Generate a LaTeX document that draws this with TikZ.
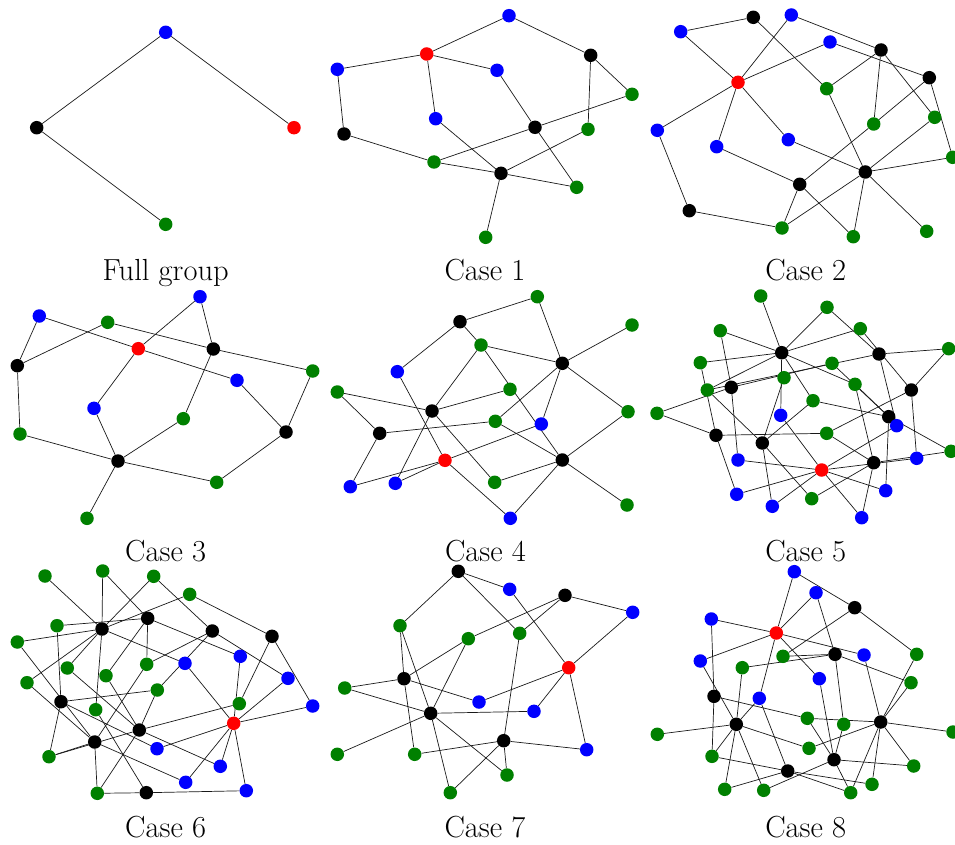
\documentclass[tikz,border=0pt]{standalone}
\usepackage{fontspec}
\pgfdeclarelayer{bg}
\pgfsetlayers{bg,main}
\tikzset{
  vtx/.style={circle,inner sep=0pt,minimum size=13.5pt,draw=none},
  kn/.style={vtx,fill=black},
  bn/.style={vtx,fill=blue},
  rn/.style={vtx,fill=red},
  gn/.style={vtx,fill=green!50!black},
  edge/.style={line width=0.7pt,draw=black!90},
  lab/.style={anchor=base,font=\fontsize{30.5}{36}\selectfont,inner sep=0pt}
}
\begin{document}
\begin{tikzpicture}[x=1pt,y=-1pt]
\useasboundingbox (0,0) rectangle (955,845);
% ---------- Full group ----------
\node[bn] (fB) at (165.7,32.3) {};
\node[kn] (fK) at (36.7,127.7) {};
\node[rn] (fR) at (294,127.7) {};
\node[gn] (fG) at (165.7,224.3) {};
\node[lab] (fL) at (165.7,280) {Full group};
\begin{pgfonlayer}{bg}
\foreach \u/\v in {B/K,B/R,K/G} \draw[edge] (f\u) -- (f\v);
\end{pgfonlayer}
% ---------- Case 1 ----------
\node[bn] (aB1) at (509,15.7) {};
\node[rn] (aR) at (426.7,54) {};
\node[bn] (aB2) at (337.3,69.3) {};
\node[bn] (aB3) at (497,70.3) {};
\node[kn] (aK1) at (590.7,55.3) {};
\node[gn] (aG1) at (632,94.3) {};
\node[bn] (aB4) at (435.7,118.7) {};
\node[kn] (aK2) at (535,127.3) {};
\node[gn] (aG2) at (588,129.3) {};
\node[kn] (aK3) at (344,134) {};
\node[gn] (aG3) at (434,162) {};
\node[kn] (aK4) at (501,173.3) {};
\node[gn] (aG4) at (576.7,187.3) {};
\node[gn] (aG5) at (485.7,237.3) {};
\node[lab] (aL) at (485,280) {Case 1};
\begin{pgfonlayer}{bg}
\foreach \u/\v in {B1/R,B1/K1,R/B2,R/B3,R/B4,B2/K3,K1/G1,K1/G2,B3/K2,B4/K4,G3/K2,K2/G1,K2/G4,K3/G3,G3/K4,K4/G4,K4/G2,K4/G5}
  \draw[edge] (a\u) -- (a\v);
\end{pgfonlayer}
% ---------- Case 2 ----------
\node[kn] (bK1) at (753.3,17.3) {};
\node[bn] (bB1) at (791.3,15) {};
\node[bn] (bB2) at (680.7,31.7) {};
\node[bn] (bB3) at (830,42) {};
\node[kn] (bK2) at (881,50) {};
\node[kn] (bK3) at (929.3,77.7) {};
\node[rn] (bR) at (738,82.3) {};
\node[gn] (bG1) at (826.7,88.7) {};
\node[gn] (bG2) at (934.7,117.3) {};
\node[gn] (bG3) at (873.7,124) {};
\node[bn] (bB4) at (657.3,130.3) {};
\node[bn] (bB5) at (788.3,139.7) {};
\node[bn] (bB6) at (716.7,146.7) {};
\node[gn] (bG4) at (952.7,157.3) {};
\node[kn] (bK4) at (865.3,172) {};
\node[kn] (bK5) at (799.7,184.3) {};
\node[kn] (bK6) at (689.3,210.7) {};
\node[gn] (bG5) at (782,228) {};
\node[gn] (bG6) at (853.3,236.7) {};
\node[gn] (bG7) at (926.7,231.3) {};
\node[lab] (bL) at (805.7,280) {Case 2};
\begin{pgfonlayer}{bg}
\foreach \u/\v in {B2/K1,B2/R,K1/G1,B1/R,B1/K2,B3/R,B3/K3,G1/K2,K2/G3,K2/G2,K3/G3,G3/K5,K3/G4,R/B4,R/B6,R/B5,B4/K6,K6/G5,B6/K5,B5/K4,G1/K4,G2/K4,G4/K4,K4/G5,K4/G6,K4/G7,K5/G5,K5/G6}
  \draw[edge] (b\u) -- (b\v);
\end{pgfonlayer}
% ---------- Case 3 ----------
\node[bn] (cB1) at (200,296.7) {};
\node[bn] (cB2) at (39.3,316) {};
\node[gn] (cG1) at (107.7,322.3) {};
\node[rn] (cR) at (138.3,348.7) {};
\node[kn] (cK1) at (213.3,349) {};
\node[kn] (cK2) at (17.3,365.7) {};
\node[gn] (cG2) at (312.7,371) {};
\node[bn] (cB3) at (237,380.3) {};
\node[bn] (cB4) at (94,408.3) {};
\node[gn] (cG3) at (183.3,418.7) {};
\node[kn] (cK3) at (286,432) {};
\node[gn] (cG4) at (20,434) {};
\node[kn] (cK4) at (118,461) {};
\node[gn] (cG5) at (216.7,482.3) {};
\node[gn] (cG6) at (87,518.3) {};
\node[lab] (cL) at (165.7,561) {Case 3};
\begin{pgfonlayer}{bg}
\foreach \u/\v in {B2/K2,B2/R,R/B3,G1/K2,G1/K1,K1/G2,B1/R,B1/K1,R/B4,K1/G3,K2/G4,B3/K3,G2/K3,B4/K4,G3/K4,G4/K4,K4/G5,G5/K3,K4/G6}
  \draw[edge] (c\u) -- (c\v);
\end{pgfonlayer}
% ---------- Case 4 ----------
\node[gn] (dG1) at (537.3,296.7) {};
\node[kn] (dK1) at (460,321.7) {};
\node[gn] (dG2) at (632,325) {};
\node[gn] (dG3) at (481,345) {};
\node[kn] (dK2) at (562.3,363.3) {};
\node[bn] (dB1) at (397.3,371.7) {};
\node[gn] (dG4) at (337.3,392) {};
\node[gn] (dG5) at (510,389.3) {};
\node[kn] (dK3) at (432,411) {};
\node[gn] (dG6) at (628,411.7) {};
\node[gn] (dG7) at (495.3,421.3) {};
\node[bn] (dB2) at (541.3,424) {};
\node[kn] (dK4) at (379.7,433.3) {};
\node[rn] (dR) at (445,460.3) {};
\node[kn] (dK5) at (562.3,460) {};
\node[bn] (dB3) at (350.3,486.7) {};
\node[bn] (dB4) at (395.3,483.3) {};
\node[gn] (dG8) at (494.7,482.3) {};
\node[gn] (dG9) at (627,505) {};
\node[bn] (dB5) at (510.3,518.3) {};
\node[lab] (dL) at (485.5,561) {Case 4};
\begin{pgfonlayer}{bg}
\foreach \u/\v in {K1/G1,G1/K2,K1/B1,K1/G3,G3/K2,K2/G2,G3/K5,K3/G5,B1/R,B2/R,B2/K2,R/B3,R/B4,R/B5,B3/K4,B4/K3,K3/G4,K3/G3,K3/G8,K4/G4,K4/G7,G7/K2,G7/K5,K2/G6,K5/G6,K5/G8,K5/G9,K5/B5}
  \draw[edge] (d\u) -- (d\v);
\end{pgfonlayer}
% ---------- Case 5 ----------
\node[gn] (eG1) at (760.7,296) {};
\node[gn] (eG2) at (827,307.3) {};
\node[gn] (eG3) at (720.3,330.7) {};
\node[gn] (eG4) at (860.3,328.7) {};
\node[kn] (eK1) at (781.7,352.7) {};
\node[kn] (eK2) at (879,354) {};
\node[gn] (eG5) at (948.7,348.7) {};
\node[gn] (eG6) at (700.3,362.7) {};
\node[gn] (eG7) at (832,363.3) {};
\node[gn] (eG8) at (784,377.7) {};
\node[gn] (eG9) at (707.3,390) {};
\node[kn] (eK3) at (731.3,387.3) {};
\node[gn] (eG10) at (855,384.3) {};
\node[kn] (eK4) at (911.3,390) {};
\node[gn] (eG11) at (813,400.7) {};
\node[gn] (eG12) at (657,413.3) {};
\node[bn] (eB1) at (780.7,415.3) {};
\node[kn] (eK5) at (888.7,416.7) {};
\node[bn] (eB2) at (896.7,425.7) {};
\node[kn] (eK6) at (716,435.3) {};
\node[gn] (eG13) at (826.7,433.3) {};
\node[kn] (eK7) at (762.3,443) {};
\node[gn] (eG14) at (951,451.3) {};
\node[bn] (eB3) at (738,460) {};
\node[bn] (eB4) at (916.7,458.3) {};
\node[kn] (eK8) at (873.7,462.7) {};
\node[rn] (eR) at (821.7,470) {};
\node[bn] (eB5) at (736.7,494.3) {};
\node[bn] (eB6) at (885.7,490.7) {};
\node[bn] (eB7) at (772.3,506.3) {};
\node[gn] (eG15) at (811.7,498.7) {};
\node[bn] (eB8) at (861.7,517.7) {};
\node[lab] (eL) at (805.7,561) {Case 5};
\begin{pgfonlayer}{bg}
\foreach \u/\v in {G1/K1,G2/K1,G2/K2,G3/K1,G3/K3,K3/B3,G4/K1,G4/K4,G6/K1,G6/K6,K3/G7,G9/K2,G9/K1,G12/K3,G12/K6,K6/G13,K6/B5,G9/K7,K7/G11,K7/G8,K7/B7,K7/G15,G11/K5,G10/K5,G10/K8,G7/K5,K2/G5,K2/B2,G5/K4,K4/G13,K4/B4,K5/G14,K5/B6,G13/K8,K8/B8,K8/G15,K8/G14,R/B1,R/B2,R/B3,R/B4,R/B5,R/B6,R/B7,R/B8,K1/B1,K1/G11,K1/G10}
  \draw[edge] (e\u) -- (e\v);
\end{pgfonlayer}
% ---------- Case 6 ----------
\node[gn] (gG1) at (45,576) {};
\node[gn] (gG2) at (102.7,571) {};
\node[gn] (gG3) at (153.7,576.3) {};
\node[gn] (gG4) at (189.7,594.3) {};
\node[kn] (gK1) at (147.7,618.3) {};
\node[kn] (gK2) at (102,629) {};
\node[gn] (gG5) at (57,625.7) {};
\node[kn] (gK3) at (212.3,631) {};
\node[kn] (gK4) at (272,636.3) {};
\node[gn] (gG6) at (17.3,642) {};
\node[bn] (gB1) at (240.3,656.3) {};
\node[bn] (gB2) at (185,663.3) {};
\node[gn] (gG7) at (146.7,664.3) {};
\node[gn] (gG8) at (67.3,668) {};
\node[gn] (gG9) at (106,675.7) {};
\node[bn] (gB3) at (288,678.3) {};
\node[gn] (gG10) at (27,682.7) {};
\node[gn] (gG11) at (157.3,690) {};
\node[kn] (gK5) at (61,701.7) {};
\node[gn] (gG12) at (239.3,703.7) {};
\node[bn] (gB4) at (312.7,706) {};
\node[gn] (gG13) at (95.7,709.7) {};
\node[rn] (gR) at (233.7,723.3) {};
\node[kn] (gK6) at (139.3,730) {};
\node[kn] (gK7) at (94.7,742) {};
\node[bn] (gB5) at (157,748.7) {};
\node[gn] (gG14) at (49,756.7) {};
\node[bn] (gB6) at (220.3,766.3) {};
\node[bn] (gB7) at (185.7,782.3) {};
\node[bn] (gB8) at (246.3,790.7) {};
\node[gn] (gG15) at (97.3,793.3) {};
\node[kn] (gK8) at (146.3,792.7) {};
\node[lab] (gL) at (165.7,837) {Case 6};
\begin{pgfonlayer}{bg}
\foreach \u/\v in {G1/K2,G2/K2,G3/K2,G2/K1,G3/K3,G4/K2,G4/K4,G5/K1,G6/K2,K2/G10,K2/G8,K2/G13,K2/B2,G9/K1,K1/G7,K1/B1,G6/K7,G5/K5,G10/K7,G8/K6,G9/K6,G13/K8,K5/G11,K5/B5,K7/B7,K5/G14,G14/K7,G14/K6,K7/G15,K7/G7,G15/K6,K6/G11,G15/K8,K8/B8,K6/G12,K6/B6,G11/K3,G7/K3,K3/B3,K4/G12,K4/B4,B1/R,B3/R,B4/R,B2/R,R/B5,R/B6,R/B7,R/B8}
  \draw[edge] (g\u) -- (g\v);
\end{pgfonlayer}
% ---------- Case 7 ----------
\node[kn] (hK1) at (458.3,571.3) {};
\node[bn] (hB1) at (509.7,589.3) {};
\node[kn] (hK2) at (565,595.3) {};
\node[bn] (hB2) at (632.7,612.3) {};
\node[gn] (hG1) at (400,625.7) {};
\node[gn] (hG2) at (519.7,633.3) {};
\node[gn] (hG3) at (468.3,638.7) {};
\node[rn] (hR) at (568.7,667.7) {};
\node[kn] (hK3) at (404,678.7) {};
\node[gn] (hG4) at (344.7,688) {};
\node[bn] (hB3) at (479,702) {};
\node[bn] (hB4) at (534,711.3) {};
\node[kn] (hK4) at (430.7,713.3) {};
\node[kn] (hK5) at (503.7,740.7) {};
\node[gn] (hG5) at (337.3,754.3) {};
\node[gn] (hG6) at (414.7,754.3) {};
\node[bn] (hB5) at (586.7,749.7) {};
\node[gn] (hG7) at (507,775) {};
\node[gn] (hG8) at (450.3,792.7) {};
\node[lab] (hL) at (485,837) {Case 7};
\begin{pgfonlayer}{bg}
\foreach \u/\v in {K1/B1,K1/G1,K1/G2,B1/R,K2/B2,K2/G3,K2/G2,B2/R,G1/K3,G1/K4,G3/K3,G3/K4,K3/G4,K3/B3,G4/K4,K4/B4,K4/G5,K4/G7,K4/G8,B3/R,B4/R,R/B5,G2/K5,K5/G6,K5/B5,K5/G7,K5/G8,K3/G6}
  \draw[edge] (h\u) -- (h\v);
\end{pgfonlayer}
% ---------- Case 8 ----------
\node[bn] (iB1) at (794.3,571.7) {};
\node[bn] (iB2) at (816,592.7) {};
\node[kn] (iK1) at (854.7,607.7) {};
\node[bn] (iB3) at (711.3,619) {};
\node[rn] (iR) at (776.3,633) {};
\node[gn] (iG1) at (783,656.3) {};
\node[kn] (iK2) at (835,654.3) {};
\node[bn] (iB4) at (864,655) {};
\node[gn] (iG2) at (916.7,654.3) {};
\node[bn] (iB5) at (700.3,661) {};
\node[gn] (iG3) at (742.3,667.7) {};
\node[bn] (iB6) at (819.3,678.7) {};
\node[gn] (iG4) at (911,682.7) {};
\node[kn] (iK3) at (714,696.3) {};
\node[bn] (iB7) at (759.3,698.3) {};
\node[gn] (iG5) at (807.3,718.3) {};
\node[gn] (iG6) at (843.7,724.3) {};
\node[kn] (iK4) at (880.7,722) {};
\node[kn] (iK5) at (736.3,724.3) {};
\node[gn] (iG7) at (657.3,734.3) {};
\node[gn] (iG8) at (953,732) {};
\node[gn] (iG9) at (809,748.3) {};
\node[gn] (iG10) at (712,756.3) {};
\node[kn] (iK6) at (834,759.7) {};
\node[gn] (iG11) at (913.7,766) {};
\node[kn] (iK7) at (787.7,771) {};
\node[gn] (iG12) at (872,784.3) {};
\node[gn] (iG13) at (724.7,789.3) {};
\node[gn] (iG14) at (763.7,790.3) {};
\node[gn] (iG15) at (850.7,792.7) {};
\node[lab] (iL) at (805.7,837) {Case 8};
\begin{pgfonlayer}{bg}
\foreach \u/\v in {B1/K1,B1/R,B2/R,B2/K2,K1/G1,K1/G2,B3/R,B3/K3,K3/G10,R/B5,R/B4,R/B6,R/B7,G1/K2,G3/K2,K2/G4,K2/G6,G6/K6,B4/K4,G2/K4,G4/K4,B5/K5,G3/K5,B6/K6,K3/G5,B7/K5,B7/K7,K5/G7,K5/G10,K5/G13,K5/G14,K5/G9,G5/K4,G5/K6,G9/K4,K4/G8,K4/G11,K4/G12,K4/G15,K6/G11,K6/G15,K6/G14,G10/K7,K7/G12,K7/G13,K7/G15}
  \draw[edge] (i\u) -- (i\v);
\end{pgfonlayer}
\end{tikzpicture}
\end{document}
